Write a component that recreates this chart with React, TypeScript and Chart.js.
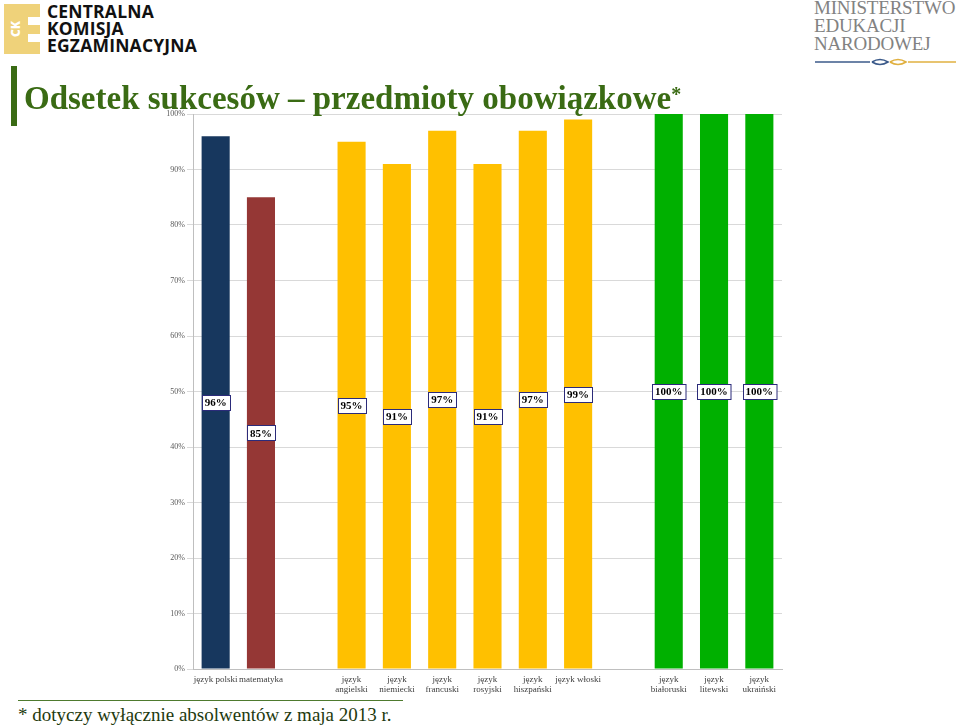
import React, { useEffect, useRef } from "react";
import { Chart, registerables } from "chart.js";

Chart.register(...registerables);

const categories: (string | string[])[] = [
  "język polski",
  "matematyka",
  "",
  ["język", "angielski"],
  ["język", "niemiecki"],
  ["język", "francuski"],
  ["język", "rosyjski"],
  ["język", "hiszpański"],
  "język włoski",
  "",
  ["język", "białoruski"],
  ["język", "litewski"],
  ["język", "ukraiński"],
];

const successRates: (number | null)[] = [96, 85, null, 95, 91, 97, 91, 97, 99, null, 100, 100, 100];

const barColors: string[] = [
  "#17375E",
  "#953735",
  "#FFC000",
  "#FFC000",
  "#FFC000",
  "#FFC000",
  "#FFC000",
  "#FFC000",
  "#FFC000",
  "#FFC000",
  "#00B000",
  "#00B000",
  "#00B000",
];

const yTicks: number[] = [0, 10, 20, 30, 40, 50, 60, 70, 80, 90, 100];

const titleText = "Odsetek sukcesów – przedmioty obowiązkowe";
const footnoteText = "* dotyczy wyłącznie absolwentów z maja 2013 r.";

const centerLabels = {
  id: "centerLabels",
  afterDatasetsDraw(chart: any) {
    const ctx = chart.ctx;
    const meta = chart.getDatasetMeta(0);
    const data = chart.data.datasets[0].data;
    ctx.save();
    ctx.font = "bold 11px 'Liberation Serif', 'Times New Roman', serif";
    ctx.textAlign = "center";
    ctx.textBaseline = "middle";
    meta.data.forEach((bar: any, i: number) => {
      const v = data[i];
      if (v === null || v === undefined) return;
      const txt = v + "%";
      const cy = (bar.y + bar.base) / 2;
      const w = ctx.measureText(txt).width + 6;
      const h = 15;
      const x0 = Math.round(bar.x - w / 2) + 0.5;
      const y0 = Math.round(cy - h / 2) + 0.5;
      ctx.fillStyle = "#ffffff";
      ctx.fillRect(x0, y0, w, h);
      ctx.strokeStyle = "#2B2B7A";
      ctx.lineWidth = 1;
      ctx.strokeRect(x0, y0, w, h);
      ctx.fillStyle = "#000000";
      ctx.fillText(txt, bar.x, cy + 1);
    });
    ctx.restore();
  },
};

function ChartCanvas() {
  const ref = useRef<HTMLCanvasElement | null>(null);
  useEffect(() => {
    if (!ref.current) return;
    const chart = new Chart(ref.current, {
      type: "bar",
      data: {
        labels: categories,
        datasets: [
          {
            data: successRates,
            backgroundColor: barColors,
            borderWidth: 0,
            barPercentage: 0.62,
            categoryPercentage: 1,
          },
        ],
      },
      options: {
        responsive: false,
        animation: false,
        devicePixelRatio: 1,
        layout: { padding: { top: 14, right: 18, bottom: 0, left: 0 } },
        plugins: {
          legend: { display: false },
          tooltip: { enabled: false },
          title: { display: false },
        },
        scales: {
          x: {
            grid: { display: false, drawTicks: false },
            border: { display: true, color: "#BFBFBF", width: 1 },
            ticks: {
              autoSkip: false,
              maxRotation: 0,
              minRotation: 0,
              padding: 5,
              color: "#404040",
              font: { family: "'Liberation Serif', 'Times New Roman', serif", size: 9, lineHeight: 1.15 },
            },
            afterFit(scale: any) {
              scale.height = 31;
            },
          },
          y: {
            min: 0,
            max: 100,
            afterBuildTicks(scale: any) {
              scale.ticks = yTicks.map((v) => ({ value: v }));
            },
            grid: { color: "#D9D9D9", lineWidth: 1, tickLength: 6, drawTicks: true },
            border: { display: true, color: "#BFBFBF", width: 1 },
            ticks: {
              padding: 2,
              color: "#595959",
              font: { family: "'Liberation Serif', 'Times New Roman', serif", size: 8 },
              callback: (v: any) => v + "%",
            },
            afterFit(scale: any) {
              scale.width = 43;
            },
          },
        },
      },
      plugins: [centerLabels],
    });
    return () => chart.destroy();
  }, []);
  return (
    <canvas
      ref={ref}
      width={650}
      height={600}
      style={{ position: "absolute", left: 150, top: 100, width: 650, height: 600 }}
    />
  );
}

function CkeLogo() {
  const yellow = "#EFD27A";
  return (
    <div style={{ position: "absolute", left: 4, top: 4, width: 200, height: 52 }}>
      <div style={{ position: "absolute", left: 0, top: 0, width: 36, height: 50, background: yellow }} />
      <div style={{ position: "absolute", left: 24, top: 13, width: 12, height: 8, background: "#fff" }} />
      <div style={{ position: "absolute", left: 24, top: 30, width: 12, height: 8, background: "#fff" }} />
      <div
        style={{
          position: "absolute",
          left: -3,
          top: 19,
          width: 30,
          height: 12,
          transform: "rotate(-90deg)",
          color: "#fff",
          fontFamily: "'Open Sans', sans-serif",
          fontWeight: 800,
          fontSize: 12,
          lineHeight: "12px",
          textAlign: "center",
        }}
      >
        CK
      </div>
      <div
        style={{
          position: "absolute",
          left: 43,
          top: -1,
          fontFamily: "'Open Sans', sans-serif",
          fontWeight: 700,
          fontSize: 17.5,
          lineHeight: "17px",
          color: "#111",
          letterSpacing: 0.2,
        }}
      >
        CENTRALNA
        <br />
        KOMISJA
        <br />
        EGZAMINACYJNA
      </div>
    </div>
  );
}

function MenLogo() {
  return (
    <div style={{ position: "absolute", left: 814, top: 0, width: 146, height: 70 }}>
      <div
        style={{
          position: "absolute",
          left: 0,
          top: -1,
          fontFamily: "'Liberation Serif', serif",
          fontSize: 19,
          lineHeight: "18px",
          color: "#828282",
          letterSpacing: -0.2,
        }}
      >
        MINISTERSTWO
        <br />
        EDUKACJI
        <br />
        NARODOWEJ
      </div>
      <svg style={{ position: "absolute", left: 0, top: 56 }} width={146} height={12}>
        <line x1={1} y1={6} x2={56} y2={6} stroke="#3B5A8A" strokeWidth={1.5} />
        <path d="M58 6 Q66 1 74 6 Q66 11 58 6" fill="none" stroke="#3B5A8A" strokeWidth={1.5} />
        <path d="M76 6 Q84 1 92 6 Q84 11 76 6" fill="none" stroke="#E0B040" strokeWidth={1.5} />
        <line x1={94} y1={6} x2={142} y2={6} stroke="#E0B040" strokeWidth={1.5} />
      </svg>
    </div>
  );
}

export default function App() {
  return (
    <div
      style={{
        position: "absolute",
        left: 0,
        top: 0,
        width: 960,
        height: 728,
        background: "#ffffff",
        overflow: "hidden",
      }}
    >
      <CkeLogo />
      <MenLogo />
      <div style={{ position: "absolute", left: 11, top: 66, width: 6, height: 60, background: "#3A6B14" }} />
      <ChartCanvas />
      <div
        style={{
          position: "absolute",
          left: 24,
          top: 78,
          fontFamily: "'Liberation Serif', 'Times New Roman', serif",
          fontWeight: 700,
          fontSize: 33,
          lineHeight: "40px",
          color: "#3A6B14",
          whiteSpace: "nowrap",
        }}
      >
        {titleText}
        <span style={{ fontSize: 20, verticalAlign: "top", position: "relative", top: -4 }}>*</span>
      </div>
      <div style={{ position: "absolute", left: 18, top: 700, width: 385, height: 1, background: "#4E7A2E" }} />
      <div
        style={{
          position: "absolute",
          left: 18,
          top: 703,
          fontFamily: "'Liberation Serif', 'Times New Roman', serif",
          fontSize: 19,
          lineHeight: "24px",
          color: "#1E3A0E",
          whiteSpace: "nowrap",
        }}
      >
        {footnoteText}
      </div>
    </div>
  );
}
